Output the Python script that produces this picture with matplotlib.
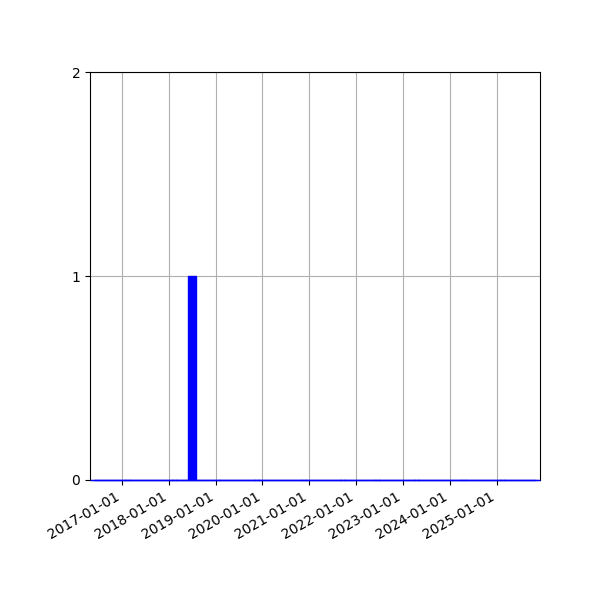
import pandas as pd
import matplotlib
matplotlib.use('Agg')
import matplotlib.pyplot as plt
import matplotlib.dates as mdates

# monthly counts, only one month has an entry
months = pd.date_range('2016-06-01', '2025-11-01', freq='MS')
counts = [0] * len(months)
counts[list(months).index(pd.Timestamp('2018-07-01'))] = 1

fig, ax = plt.subplots(figsize=(6, 6), dpi=100)
ax.bar(months, counts, width=62, color='blue', edgecolor='blue', linewidth=1,
       zorder=3, clip_on=False)

ax.set_xlim(pd.Timestamp('2016-04-28'), pd.Timestamp('2025-12-03'))
ax.set_ylim(0, 2)
ax.set_yticks([0, 1, 2])
ax.xaxis.set_major_locator(mdates.YearLocator())
ax.xaxis.set_major_formatter(mdates.DateFormatter('%Y-%m-%d'))
ax.grid(True)
fig.autofmt_xdate()
fig.subplots_adjust(left=0.15, right=0.9, top=0.88, bottom=0.2)
fig.savefig('out.png')
